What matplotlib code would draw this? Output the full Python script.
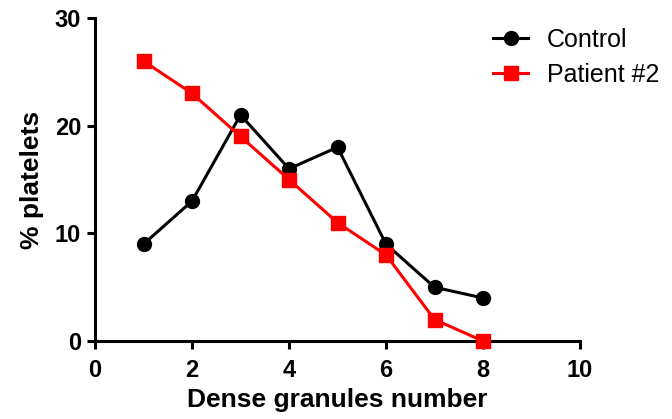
import matplotlib
matplotlib.use('Agg')
import matplotlib.pyplot as plt

plt.rcParams['font.family'] = ['Liberation Sans', 'DejaVu Sans']

# granule counts and % of platelets
granules = [1, 2, 3, 4, 5, 6, 7, 8]
control = [9, 13, 21, 16, 18, 9, 5, 4]
patient2 = [26, 23, 19, 15, 11, 8, 2, 0]

fig = plt.figure(figsize=(6.72, 4.19), dpi=100)
ax = fig.add_axes([0.1414, 0.186, 0.7217, 0.771])

ax.plot(granules, control, color='black', marker='o', markersize=10, linewidth=2.2,
        label='Control', clip_on=False, zorder=3)
ax.plot(granules, patient2, color='#ff0000', marker='s', markersize=9.5, linewidth=2.2,
        label='Patient #2', clip_on=False, zorder=4)

ax.set_xlim(0, 10)
ax.set_ylim(0, 30)
ax.set_xticks([0, 2, 4, 6, 8, 10])
ax.set_yticks([0, 10, 20, 30])

for s in ['top', 'right']:
    ax.spines[s].set_visible(False)
for s in ['left', 'bottom']:
    ax.spines[s].set_linewidth(2.2)

ax.tick_params(direction='out', length=6, width=2.2, labelsize=17, pad=4)
ax.tick_params(axis='x', pad=7)
for lbl in ax.get_xticklabels() + ax.get_yticklabels():
    lbl.set_fontweight('bold')

ax.set_xlabel('Dense granules number', fontsize=19, fontweight='bold', labelpad=4)
ax.set_ylabel('% platelets', fontsize=19, fontweight='bold', labelpad=8)

ax.legend(loc='upper left', bbox_to_anchor=(0.775, 1.04), frameon=False, fontsize=18,
          handlelength=1.4, labelspacing=0.45, handletextpad=0.75)

fig.savefig('out.png', dpi=100)
